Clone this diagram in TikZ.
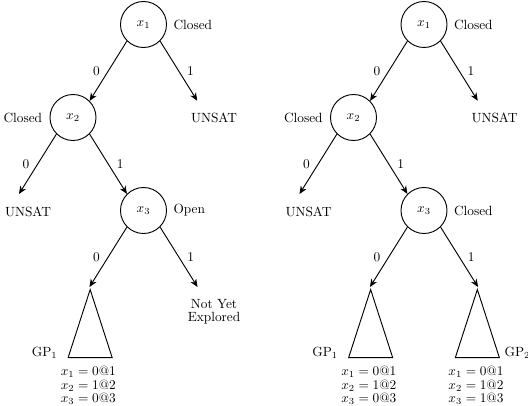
\documentclass[tikz,border=0pt]{standalone}
\usetikzlibrary{arrows.meta,calc}
\begin{document}
\begin{tikzpicture}[x=0.75pt,y=-0.75pt,
  var/.style={circle,draw,line width=0.7pt,minimum size=34.5pt,inner sep=0pt},
  ghost/.style={circle,minimum size=34.5pt,inner sep=0pt},
  edge/.style={line width=0.7pt,-{Stealth[length=6pt,width=5pt]}},
  tri/.style={line width=0.7pt,line join=miter},
  rlab/.style={label={[label distance=1.4pt]right:#1}},
  llab/.style={label={[label distance=2pt]left:#1}},
  eqs/.style={align=center}
]
\useasboundingbox (0,0) rectangle (528,406);
% ---------------- left tree ----------------
\node[var,rlab=Closed] (a1) at (143.5,24.5) {$x_1$};
\node[var,llab=Closed] (a2) at (73,117.5) {$x_2$};
\node[ghost] (a3) at (214,117.5) {UNSAT};
\node[ghost] (a4) at (2.5,210.5) {};
\node (a4t) at (28,212) {UNSAT};
\node[var,rlab=Open] (a5) at (143.5,210.5) {$x_3$};
\node[ghost] (a6) at (73,303.5) {};
\node[ghost] (a7) at (214,303.5) {};
\node[align=center] (a7t) at (214,312) {Not Yet\\[-2pt]Explored};
\draw[edge] (a1.south west) -- node[left=2.7pt]{0} (a2.north east);
\draw[edge] (a1.south east) -- node[right=2.7pt]{1} (a3.north west);
\draw[edge] (a2.south west) -- node[left=2.7pt]{0} (a4.north east);
\draw[edge] (a2.south east) -- node[right=2.7pt]{1} (a5.north west);
\draw[edge] (a5.south west) -- node[left=2.7pt]{0} (a6.north east);
\draw[edge] (a5.south east) -- node[right=2.7pt]{1} (a7.north west);
\coordinate (a6top) at ($(a6.north east)+(0.7,2.5)$);
\coordinate (a6l) at ($(a6top)+(-22,68)$);
\coordinate (a6r) at ($(a6top)+(22,68)$);
\draw[tri] (a6top) -- (a6l) -- (a6r) -- cycle;
\node[anchor=base east] (a6g) at ($(a6l)+(-6,-1)$) {GP$_1$};
\node[eqs] (a6e) at (88.3,385.5) {$x_1 = 0@1$\\[-2pt]$x_2 = 1@2$\\[-2pt]$x_3 = 0@3$};
% ---------------- right tree ----------------
\begin{scope}[shift={(280.5,0)}]
\node[var,rlab=Closed] (b1) at (143.5,24.5) {$x_1$};
\node[var,llab=Closed] (b2) at (73,117.5) {$x_2$};
\node[ghost] (b3) at (214,117.5) {UNSAT};
\node[ghost] (b4) at (2.5,210.5) {};
\node (b4t) at (28,212) {UNSAT};
\node[var,rlab=Closed] (b5) at (143.5,210.5) {$x_3$};
\node[ghost] (b6) at (73,303.5) {};
\node[ghost] (b7) at (214,303.5) {};
\draw[edge] (b1.south west) -- node[left=2.7pt]{0} (b2.north east);
\draw[edge] (b1.south east) -- node[right=2.7pt]{1} (b3.north west);
\draw[edge] (b2.south west) -- node[left=2.7pt]{0} (b4.north east);
\draw[edge] (b2.south east) -- node[right=2.7pt]{1} (b5.north west);
\draw[edge] (b5.south west) -- node[left=2.7pt]{0} (b6.north east);
\draw[edge] (b5.south east) -- node[right=2.7pt]{1} (b7.north west);
\coordinate (b6top) at ($(b6.north east)+(0.7,2.5)$);
\coordinate (b6l) at ($(b6top)+(-22,68)$);
\coordinate (b6r) at ($(b6top)+(22,68)$);
\draw[tri] (b6top) -- (b6l) -- (b6r) -- cycle;
\node[anchor=base east] (b6g) at ($(b6l)+(-6,-1)$) {GP$_1$};
\node[eqs] (b6e) at (88.3,385.5) {$x_1 = 0@1$\\[-2pt]$x_2 = 1@2$\\[-2pt]$x_3 = 0@3$};
\coordinate (b7top) at ($(b7.north west)+(-0.7,2.5)$);
\coordinate (b7l) at ($(b7top)+(-22,68)$);
\coordinate (b7r) at ($(b7top)+(22,68)$);
\draw[tri] (b7top) -- (b7l) -- (b7r) -- cycle;
\node[anchor=base west] (b7g) at ($(b7r)+(0.5,-1)$) {GP$_2$};
\node[eqs] (b7e) at (195.5,385.5) {$x_1 = 0@1$\\[-2pt]$x_2 = 1@2$\\[-2pt]$x_3 = 1@3$};
\end{scope}
\end{tikzpicture}
\end{document}
